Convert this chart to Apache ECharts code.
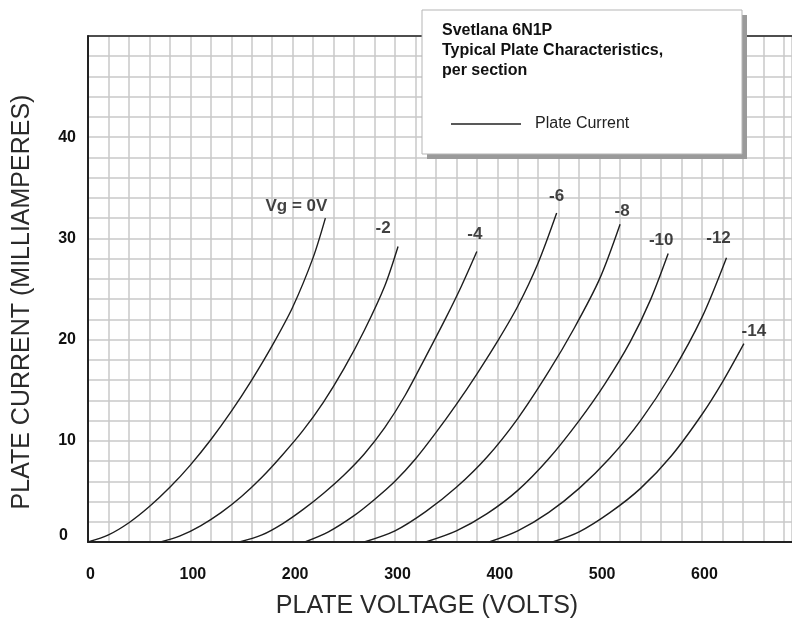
<!DOCTYPE html>
<html>
<head>
<meta charset="utf-8">
<script src="https://cdn.jsdelivr.net/npm/echarts@6/dist/echarts.min.js"></script>
<style>
html,body{margin:0;padding:0;background:#fff;}
#chart{width:792px;height:619px;}
</style>
</head>
<body>
<div id="chart"></div>
<script>
// ---- data (plate voltage V, plate current mA) ----
const gridVoltages = ['Vg = 0V', '-2', '-4', '-6', '-8', '-10', '-12', '-14'];
const curveVg0  = [[0,0],[20,0.7],[40,1.9],[60,3.5],[80,5.4],[100,7.6],[120,10.1],[140,12.9],[160,16.0],[180,19.4],[200,23.2],[220,28.1],[232,32.0]];
const curveVg2  = [[71,0],[90,0.6],[110,1.6],[130,2.9],[150,4.5],[170,6.4],[190,8.6],[210,11.0],[230,13.8],[250,17.1],[270,20.9],[290,25.3],[303,29.2]];
const curveVg4  = [[148,0],[170,0.7],[190,1.8],[210,3.2],[230,4.8],[250,6.6],[270,8.7],[290,11.3],[310,14.5],[330,18.3],[350,22.2],[365,25.3],[380,28.7]];
const curveVg6  = [[212,0],[235,1.0],[260,2.6],[280,4.2],[300,6.0],[320,8.2],[340,10.8],[360,13.6],[380,16.6],[400,19.8],[420,23.3],[440,27.6],[458,32.5]];
const curveVg8  = [[270,0],[300,1.1],[330,3.0],[360,5.4],[390,8.4],[420,12.2],[450,16.8],[475,21.1],[500,26.0],[520,31.4]];
const curveVg10 = [[330,0],[360,1.1],[390,2.8],[420,5.1],[450,8.2],[480,12.0],[505,15.6],[530,19.8],[550,24.0],[567,28.5]];
const curveVg12 = [[392,0],[420,1.1],[450,2.9],[480,5.3],[510,8.3],[540,12.0],[570,16.6],[600,22.2],[624,28.1]];
const curveVg14 = [[454,0],[480,1.0],[510,2.9],[540,5.3],[570,8.5],[600,12.6],[620,15.8],[641,19.6]];
const xTickLabels = ['0','100','200','300','400','500','600'];
const yTickLabels = ['0','10','20','30','40'];
const titleLines = ['Svetlana 6N1P', 'Typical Plate Characteristics,', 'per section'];
const legendName = 'Plate Current';
const xAxisTitle = 'PLATE VOLTAGE (VOLTS)';
const yAxisTitle = 'PLATE CURRENT (MILLIAMPERES)';

// ---- presentation ----
const curves = [curveVg0, curveVg2, curveVg4, curveVg6, curveVg8, curveVg10, curveVg12, curveVg14];
const labelOffsets = [[-29,-12],[-15,-18],[-2,-17],[0,-17],[2,-13],[-7,-13],[-8,-19],[10,-12]];
const boldFont = "'Liberation Sans',Arial,Helvetica,sans-serif";
const plain = "'Liberation Sans',Arial,Helvetica,sans-serif";
const ink = '#111';
const X_MAX = 688;

const chart = echarts.init(document.getElementById('chart'));
const series = curves.map(c => ({
  name: legendName,
  type: 'line',
  data: c,
  smooth: 0.3,
  symbol: 'none',
  itemStyle: {color: '#1e1e1e'},
  lineStyle: {color: '#1e1e1e', width: 1.4},
  z: 3
}));
series.push({
  type: 'scatter',
  name: 'labels',
  data: curves.map((c, i) => ({
    value: c[c.length - 1],
    label: {offset: labelOffsets[i], formatter: gridVoltages[i]}
  })),
  symbolSize: 1,
  itemStyle: {color: 'transparent'},
  label: {show: true, position: 'inside', color: ink, fontFamily: boldFont, fontWeight: 'bold', fontSize: 17},
  silent: true,
  z: 4
});

chart.setOption({
  animation: false,
  backgroundColor: '#fff',
  grid: {left: 88, top: 36, width: 704, height: 506},
  xAxis: [{
    type: 'value', min: 0, max: X_MAX, interval: 20,
    axisLine: {show: true, onZero: false, lineStyle: {color: '#222', width: 2}},
    axisTick: {show: false},
    splitLine: {show: true, lineStyle: {color: '#c8c8c8', width: 1.5}},
    axisLabel: {
      margin: 25, color: ink, fontFamily: boldFont, fontWeight: 'bold', fontSize: 16,
      padding: [0, 0, 0, 5],
      showMaxLabel: false,
      formatter: v => (xTickLabels.indexOf(String(v)) >= 0) ? String(v) : ''
    }
  }, {
    type: 'value', position: 'top', min: 0, max: X_MAX, interval: 20,
    axisLine: {show: true, onZero: false, lineStyle: {color: '#222', width: 1.5}},
    axisTick: {show: false}, axisLabel: {show: false}, splitLine: {show: false}
  }],
  yAxis: {
    type: 'value', min: 0, max: 50, interval: 2,
    axisLine: {show: true, onZero: false, lineStyle: {color: '#222', width: 2}},
    axisTick: {show: false},
    splitLine: {show: true, lineStyle: {color: '#c8c8c8', width: 1.5}},
    axisLabel: {
      margin: 12, color: ink, fontFamily: boldFont, fontWeight: 'bold', fontSize: 16,
      formatter: v => {
        const s = String(v);
        if (yTickLabels.indexOf(s) < 0) return '';
        return v === 0 ? '{z|' + s + '}' : s;
      },
      rich: {z: {fontFamily: boldFont, fontWeight: 'bold', fontSize: 16, color: ink, padding: [0, 8, 12, 0]}}
    }
  },
  legend: {
    data: [legendName], left: 446, top: 111, icon: 'rect', itemWidth: 70, itemHeight: 1.5, z: 20,
    itemStyle: {color: '#222'},
    textStyle: {fontFamily: plain, fontSize: 16, color: '#222', padding: [0,0,0,9]},
    selectedMode: false
  },
  graphic: [
    {type: 'rect', z: 10, shape: {x: 427, y: 15, width: 320, height: 144}, style: {fill: '#9a9a9a'}},
    {type: 'rect', z: 11, shape: {x: 422, y: 10, width: 320, height: 144}, style: {fill: '#fff', stroke: '#b5b5b5', lineWidth: 1}},
    {type: 'text', z: 12, left: 442, top: 21, style: {text: titleLines.join('\n'), fontFamily: boldFont, fontWeight: 'bold', fontSize: 16, lineHeight: 20, fill: ink}},
    {type: 'text', z: 12, x: 427, y: 606, style: {text: xAxisTitle, x: 0, y: 0, align: 'center', verticalAlign: 'middle', fontFamily: plain, fontSize: 25, fill: '#2a2a2a'}},
    {type: 'text', z: 12, x: 22, y: 302, rotation: Math.PI / 2, style: {text: yAxisTitle, x: 0, y: 0, align: 'center', verticalAlign: 'middle', fontFamily: plain, fontSize: 25, fill: '#2a2a2a'}}
  ],
  series: series
});
</script>
</body>
</html>
